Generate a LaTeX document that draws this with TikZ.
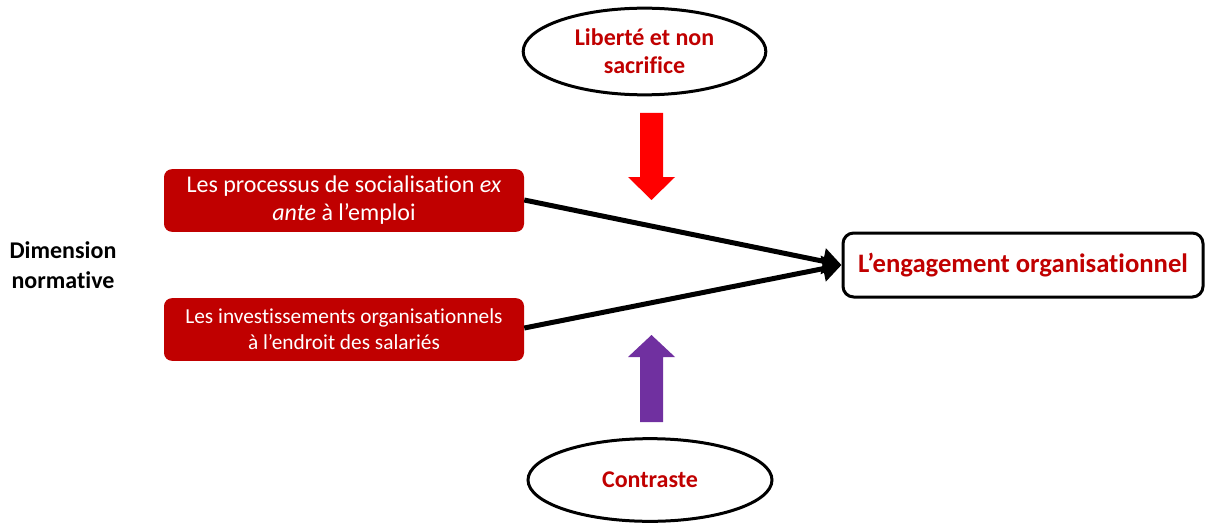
\documentclass[tikz,border=0pt]{standalone}
\usepackage{fontspec}
\setmainfont[Ligatures={NoCommon}]{Carlito}
\usepackage{tikz}
\usetikzlibrary{shapes.geometric}
\usetikzlibrary{arrows.meta}
\definecolor{darkred}{HTML}{C00000}
\definecolor{brightred}{HTML}{FF0000}
\definecolor{violet}{HTML}{7030A0}
\tikzstyle{factor}=[fill=darkred, rounded corners=6pt, text=white, align=center, inner sep=0pt, minimum width=270pt, minimum height=47pt]
\tikzstyle{moderator}=[draw, ellipse, line width=2.25pt, text=darkred, font=\bfseries\fontsize{18}{21}\selectfont, align=center, inner sep=0pt]
\tikzstyle{outcome}=[draw, line width=2.25pt, rounded corners=8pt, text=darkred, font=\bfseries\fontsize{20}{24}\selectfont, minimum width=270pt, minimum height=48pt]
\tikzstyle{link}=[line width=3.75pt, -{Triangle[length=14pt, width=19pt]}]

\begin{document}
\begin{tikzpicture}[x=0.75pt, y=-0.75pt]
        \useasboundingbox (0, 0) rectangle (1205, 524);
        \node[factor, font=\fontsize{18}{21}\selectfont]  (F1) at (344, 200.5) {Les processus de socialisation \textit{ex}\\\textit{ante} à l’emploi};
        \node[factor, font=\fontsize{16}{19.5}\selectfont] (F2) at (344, 329.5) {Les investissements organisationnels\\à l’endroit des salariés};
        \node[outcome]                         (E) at (1023, 265) {L’engagement organisationnel};
        \node[moderator, minimum width=182pt, minimum height=65pt] (M1) at (644.5, 51.5) {Liberté et non\\sacrifice};
        \node[moderator, minimum width=183pt, minimum height=62pt] (M2) at (650, 480) {Contraste};
        \node[align=center, font=\bfseries\fontsize{18}{22}\selectfont] (D) at (63, 265) {Dimension\\normative};
        \draw[link] (F1.east |- 0, 200) -- (E.west);
        \draw[link] (F2.east |- 0, 328) -- (E.west);
        % fat arrows
        \fill[brightred] (640, 113) -- (663, 113) -- (663, 177) -- (675, 177) -- (651.5, 200) -- (628, 177) -- (640, 177) -- cycle;
        \fill[violet] (640, 422) -- (663, 422) -- (663, 357) -- (675, 357) -- (651.5, 335) -- (628, 357) -- (640, 357) -- cycle;
    \end{tikzpicture}
\end{document}
